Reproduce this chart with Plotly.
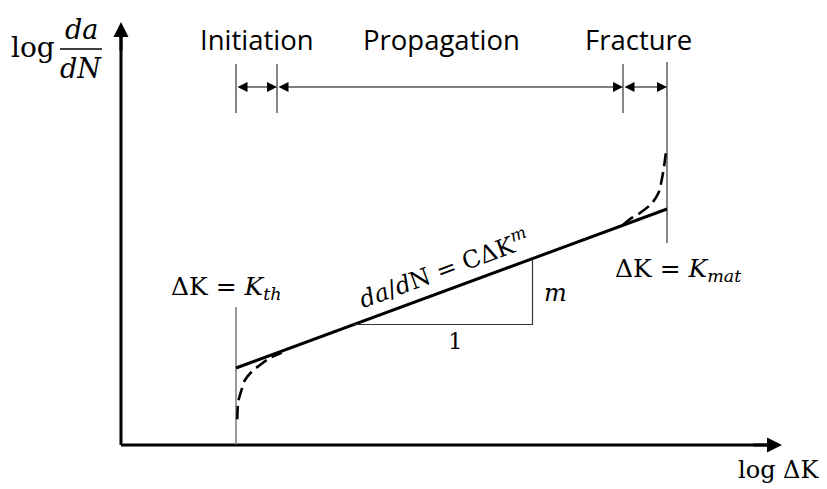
import plotly.graph_objects as go

# schematic units: origin at the axes corner, 1 unit ~ 10 px
x_axis_end = 66.1
y_axis_end = 42.3

k_th = 11.5
k_mat = 54.6
stage_bounds = [11.5, 15.6, 50.2, 54.6]
stage_names = ['Initiation', 'Propagation', 'Fracture']
stage_label_x = [13.6, 32.0, 51.7]

# Paris-law straight line
paris_x = [11.5, 54.6]
paris_y = [7.7, 23.6]

# slope triangle
tri_x = [23.25, 41.15, 41.15]
tri_y = [12.05, 12.05, 18.6]

# threshold and fracture dashed curves
thr_x = [11.63, 11.73, 12.0, 12.4, 13.07, 13.9, 14.9, 16.07]
thr_y = [2.57, 4.33, 5.33, 6.5, 7.33, 8.0, 8.7, 9.23]
frac_x = [50.2, 50.9, 51.9, 53.07, 53.73, 54.07, 54.3, 54.5]
frac_y = [22.0, 22.6, 23.2, 24.17, 25.17, 26.5, 27.83, 29.33]

math_font = 'DejaVu Serif'
text_font = 'Open Sans'

fig = go.Figure()

def seg(xs, ys, color='black', width=1, dash='solid', shape='linear'):
    fig.add_trace(go.Scatter(x=xs, y=ys, mode='lines', hoverinfo='skip',
                             line=dict(color=color, width=width, dash=dash, shape=shape)))

# axes
seg([0, x_axis_end - 1.2], [0, 0], width=3)
seg([0, 0], [0, y_axis_end - 1.2], width=3)

# vertical reference lines
seg([k_th, k_th], [0, 13.8], color='#666', width=1.3)
seg([k_mat, k_mat], [20.2, 38.3], color='#444', width=1.3)
for bx in stage_bounds[:3]:
    seg([bx, bx], [33.2, 38.1], color='#333', width=1.2)

# curves
seg(paris_x, paris_y, width=3)
seg(tri_x, tri_y, color='#333', width=1.2)
seg(thr_x, thr_y, width=2.6, dash='13px,6px', shape='spline')
seg(frac_x, frac_y, width=2.6, dash='13px,6px', shape='spline')
seg([-6.1, -1.9], [39.6, 39.6], width=1.3)

ann = []
# axis arrowheads
ann.append(dict(x=x_axis_end, y=0, ax=x_axis_end - 3, ay=0, arrowwidth=3))
ann.append(dict(x=0, y=y_axis_end, ax=0, ay=y_axis_end - 3, arrowwidth=3))
# stage dimension arrows
for i in range(3):
    ann.append(dict(x=stage_bounds[i + 1], y=35.8, ax=stage_bounds[i], ay=35.8,
                    arrowwidth=1, arrowside='end+start', arrowsize=2))
for a in ann:
    a.update(xref='x', yref='y', axref='x', ayref='y', text='', showarrow=True,
             arrowhead=2, arrowcolor='black', standoff=0, startstandoff=0)
    a.setdefault('arrowsize', 1)

def label(x, y, text, size, font=math_font, angle=0):
    ann.append(dict(x=x, y=y, xref='x', yref='y', text=text, showarrow=False,
                    textangle=angle, font=dict(family=font, size=size, color='black')))

for name, lx in zip(stage_names, stage_label_x):
    label(lx, 40.6, name, 27.5, font=text_font)

label(-8.8, 39.8, 'log', 28)
label(-4.0, 41.6, '<i>da</i>', 27)
label(-4.0, 37.7, '<i>dN</i>', 27)
label(65.7, -2.5, 'log ΔK', 24)
label(10.5, 15.7, 'ΔK = <i>K</i><sub><i>th</i></sub>', 25)
label(55.7, 17.5, 'ΔK = <i>K</i><sub><i>mat</i></sub>', 25)
label(32.2, 17.7, '<i>da</i>/<i>d</i>N = CΔK<sup><i>m</i></sup>', 24, angle=-20.3)
label(33.4, 10.4, '1', 23)
label(43.4, 15.2, '<i>m</i>', 24)

# page body keeps an 8 px margin, so the figure is 8 px smaller
fig.update_layout(
    width=819, height=481,
    margin=dict(l=0, r=0, t=0, b=0),
    paper_bgcolor='white', plot_bgcolor='white',
    showlegend=False,
    xaxis=dict(range=[-11.3, 70.6], visible=False, fixedrange=True),
    yaxis=dict(range=[-4.4, 43.7], visible=False, fixedrange=True),
    annotations=ann,
)

fig.write_html("out.html")
